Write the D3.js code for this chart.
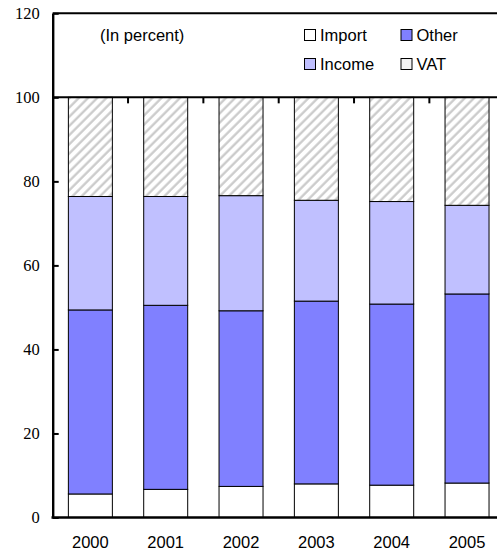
<!DOCTYPE html>
<html>
<head>
<meta charset="utf-8">
<script src="https://cdn.jsdelivr.net/npm/d3@7"></script>
<style>
  html, body { margin: 0; padding: 0; background: #fff; }
  svg { display: block; }
</style>
</head>
<body>
<svg id="chart" width="497" height="552"></svg>
<script>
// Revenue composition by year, in percent (stacked bottom to top)
const years = ["2000", "2001", "2002", "2003", "2004", "2005"];
const importShare = [5.6, 6.7, 7.4, 8.0, 7.7, 8.2];
const otherShare  = [43.8, 43.8, 41.8, 43.5, 43.1, 45.0];
const incomeShare = [27.0, 25.9, 27.4, 24.0, 24.4, 21.1];
const vatShare    = [23.6, 23.6, 23.4, 24.5, 24.8, 25.7];
const yTicks = [0, 20, 40, 60, 80, 100, 120];
const seriesNames = ["Import", "Other", "Income", "VAT"];

const rows = years.map((yr, i) => ({
  year: yr,
  Import: importShare[i],
  Other: otherShare[i],
  Income: incomeShare[i],
  VAT: vatShare[i]
}));

const svg = d3.select("#chart");
const plotLeft = 52.7, plotRight = 504.7, plotTop = 13.3, plotBottom = 517.5;

const x = d3.scaleBand().domain(years).range([plotLeft, plotRight])
  .paddingInner(0.416).paddingOuter(0.208);
const y = d3.scaleLinear().domain([0, 120]).range([plotBottom, plotTop]);

// diagonal hatch for VAT
const defs = svg.append("defs");
const pat = defs.append("pattern")
  .attr("id", "hatch")
  .attr("patternUnits", "userSpaceOnUse")
  .attr("width", 6.5).attr("height", 6.5)
  .attr("patternTransform", "rotate(45)");
pat.append("rect").attr("width", 6.5).attr("height", 6.5).attr("fill", "#fff");
pat.append("line").attr("x1", 1.5).attr("y1", 0).attr("x2", 1.5).attr("y2", 6.5)
  .attr("stroke", "#c8c8c8").attr("stroke-width", 2.2);

const fills = {
  Import: "#ffffff",
  Other: "#8080ff",
  Income: "#c0c0ff",
  VAT: "url(#hatch)"
};

const stack = d3.stack().keys(seriesNames);
const layers = stack(rows);

svg.append("g").selectAll("g")
  .data(layers).join("g")
  .attr("fill", d => fills[d.key])
  .selectAll("rect")
  .data(d => d).join("rect")
  .attr("x", d => x(d.data.year))
  .attr("width", x.bandwidth())
  .attr("y", d => y(d[1]))
  .attr("height", d => y(d[0]) - y(d[1]))
  .attr("stroke", "#000")
  .attr("stroke-width", 1);

// top frame line at 120
svg.append("line")
  .attr("x1", plotLeft).attr("x2", plotRight)
  .attr("y1", y(120)).attr("y2", y(120))
  .attr("stroke", "#000").attr("stroke-width", 2);

// line at 100 with category separator ticks
svg.append("line")
  .attr("x1", plotLeft).attr("x2", plotRight)
  .attr("y1", y(100)).attr("y2", y(100))
  .attr("stroke", "#000").attr("stroke-width", 2);
svg.append("g").selectAll("line")
  .data(years.slice(1))
  .join("line")
  .attr("x1", d => x(d) - x.step() * x.paddingInner() / 2)
  .attr("x2", d => x(d) - x.step() * x.paddingInner() / 2)
  .attr("y1", y(100)).attr("y2", y(100) + 6)
  .attr("stroke", "#000").attr("stroke-width", 2);

// y axis
const yAxis = d3.axisLeft(y).tickValues(yTicks).tickSizeInner(-6).tickSizeOuter(0).tickPadding(13);
const gy = svg.append("g").attr("transform", `translate(${plotLeft},0)`).call(yAxis);
gy.attr("font-family", null);
gy.select(".domain").attr("stroke", "#000").attr("stroke-width", 2.4);
gy.selectAll(".tick line").attr("stroke", "#000").attr("stroke-width", 2);
gy.selectAll(".tick text")
  .style("font-family", "'Liberation Serif', 'Times New Roman', 'DejaVu Serif', serif")
  .attr("font-size", "16.5px").attr("fill", "#000");

// x axis
const xAxis = d3.axisBottom(x).tickSize(0).tickPadding(18.5);
const gx = svg.append("g").attr("transform", `translate(0,${plotBottom})`).call(xAxis);
gx.select(".domain").attr("stroke", "#000").attr("stroke-width", 2.4)
  .attr("d", `M${plotLeft - 1.2},0H${plotRight}`);
gx.selectAll(".tick text")
  .style("font-family", "'Liberation Sans', Arial, sans-serif")
  .attr("font-size", "16.5px").attr("fill", "#000");

// note
svg.append("text")
  .attr("x", 100).attr("y", 41)
  .style("font-family", "'Liberation Sans', Arial, sans-serif")
  .attr("font-size", "16.5px").attr("fill", "#000")
  .text("(In percent)");

// legend
const legendItems = [
  { key: "Import", lx: 304.5, ly: 29.5 },
  { key: "Other",  lx: 401,   ly: 29.5 },
  { key: "Income", lx: 304.5, ly: 58.5 },
  { key: "VAT",    lx: 401,   ly: 58.5 }
];
const lg = svg.append("g").selectAll("g").data(legendItems).join("g")
  .attr("transform", d => `translate(${d.lx},${d.ly})`);
lg.append("rect")
  .attr("width", 11).attr("height", 11)
  .attr("fill", d => d.key === "VAT" ? "#f2f2f2" : fills[d.key])
  .attr("stroke", "#000").attr("stroke-width", 1);
lg.append("text")
  .attr("x", 15.5).attr("y", 11.3)
  .style("font-family", "'Liberation Sans', Arial, sans-serif")
  .attr("font-size", "16.5px").attr("fill", "#000")
  .text(d => d.key);
</script>
</body>
</html>
